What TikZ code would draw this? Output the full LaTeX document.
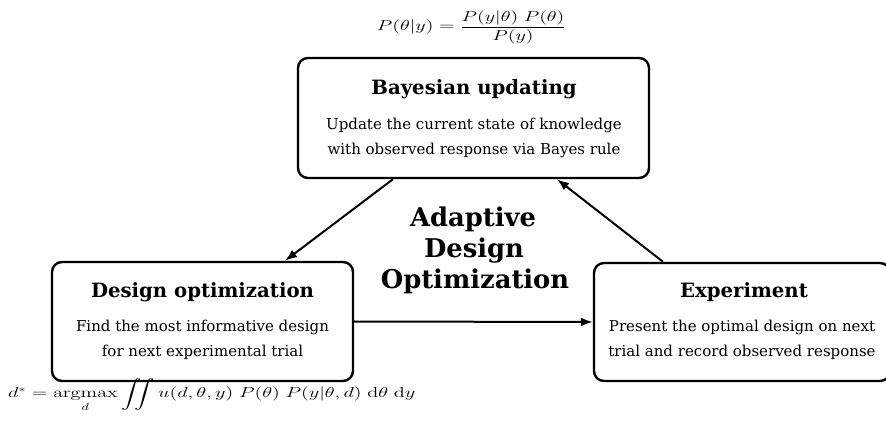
\documentclass[tikz,border=0pt]{standalone}
\usepackage{amsmath}
\usepackage{graphicx}
\usepackage[no-math]{fontspec}
\setmainfont{DejaVu Serif}
\usetikzlibrary{arrows.meta}
\begin{document}
\begin{tikzpicture}[x=1pt,y=-1pt,
  box/.style={draw, line width=2.4pt, rounded corners=10pt, inner sep=0pt},
  ttl/.style={anchor=base, inner sep=0pt, font=\fontsize{19.7}{23}\selectfont\bfseries},
  bodytxt/.style={anchor=base, inner sep=0pt, font=\fontsize{15}{18}\selectfont},
  bigttl/.style={anchor=base, inner sep=0pt, font=\fontsize{25.8}{30}\selectfont\bfseries},
  formula/.style={inner sep=0pt, font=\fontsize{14}{16}\selectfont},
  link/.style={line width=2pt, -{Latex[length=12pt,width=9pt]}},
]
\useasboundingbox (0,0) rectangle (886,427);

% boxes
\node[box, minimum width=351pt, minimum height=120pt] (bayes) at (473.5,118) {};
\node[box, minimum width=301pt, minimum height=119pt] (design) at (202.5,321.5) {};
\node[box, minimum width=296pt, minimum height=118pt] (exper) at (742,322) {};

% Bayesian texts
\node[ttl] (bt) at (474,95) {Bayesian updating};
\node[bodytxt] (bl1) at (474,130) {Update the current state of knowledge};
\node[bodytxt] (bl2) at (474,155) {with observed response via Bayes rule};

% Design texts
\node[ttl] (dt) at (202.5,298) {Design optimization};
\node[bodytxt] (dl1) at (202.5,332) {Find the most informative design};
\node[bodytxt] (dl2) at (202.5,357) {for next experimental trial};

% Experiment texts
\node[ttl] (et) at (744,298) {Experiment};
\node[bodytxt] (el1) at (742,332) {Present the optimal design on next};
\node[bodytxt] (el2) at (742,357) {trial and record observed response};

% centre title
\node[bigttl] (c1) at (473,227) {Adaptive};
\node[bigttl] (c2) at (474,258) {Design};
\node[bigttl] (c3) at (475,289) {Optimization};

% formulas
\node[formula, anchor=base] (bayesrule) at (471.5,31)
  {\scalebox{1.4}[1]{$\displaystyle P(\theta|y) = \frac{P(y|\theta)\;P(\theta)}{P(y)}$}};
\node[formula, anchor=base west] (optrule) at (8,398)
  {\scalebox{1.41}[1]{$\displaystyle d^{*} = \operatorname*{argmax}_{d} \iint u(d,\theta,y)\;P(\theta)\;P(y|\theta,d)\;\mathrm{d}\theta\;\mathrm{d}y$}};

% connectors
\draw[link] ([xshift=-80.5pt]bayes.south) -- ([xshift=82.5pt]design.north);
\draw[link] (design.east) -- (exper.west);
\draw[link] ([xshift=-79pt]exper.north) -- ([xshift=83.5pt]bayes.south);
\end{tikzpicture}
\end{document}
